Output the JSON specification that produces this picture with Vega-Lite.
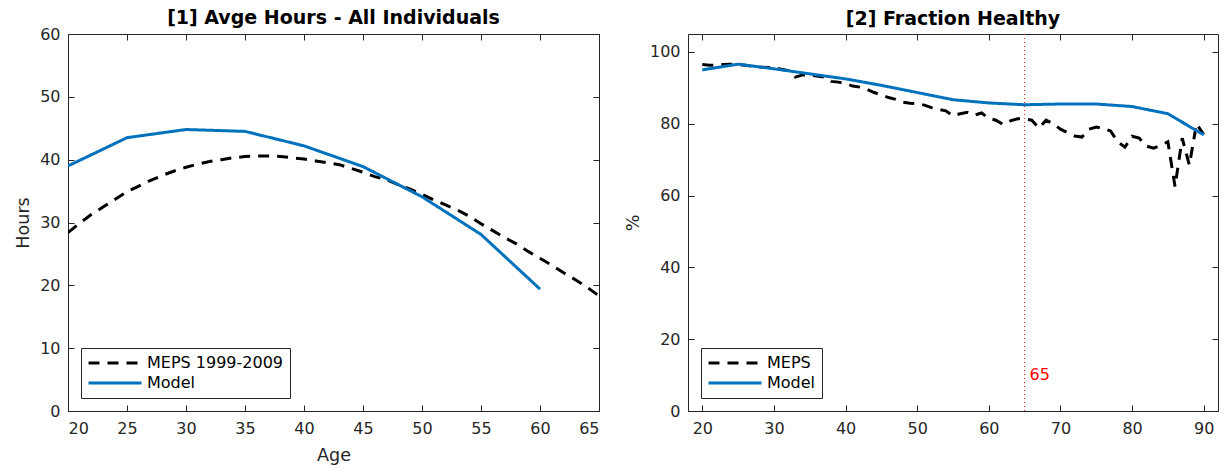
{
  "$schema": "https://vega.github.io/schema/vega-lite/v6.json",
  "background": "white",
  "padding": {"left": 14, "top": 8, "right": 5, "bottom": 5},
  "config": {
    "font": "DejaVu Sans",
    "view": {"stroke": "#262626", "strokeWidth": 1},
    "axis": {"labelFont": "DejaVu Sans", "labelFontSize": 16, "labelColor": "#262626", "titleFont": "DejaVu Sans", "titleFontSize": 17.6, "titleFontWeight": "normal", "titleColor": "#262626", "domain": false, "grid": false, "tickColor": "#262626", "tickSize": -6, "labelPadding": 14},
    "axisX": {"labelPadding": 15, "titlePadding": 10},
    "axisY": {"labelPadding": 14, "titlePadding": 7},
    "title": {"fontSize": 19, "font": "DejaVu Sans", "fontWeight": "bold", "color": "#000000", "offset": -2, "frame": "group"},
    "legend": {"orient": "bottom-left", "offset": 13, "strokeColor": "#262626", "fillColor": "white", "padding": 6, "symbolType": "stroke", "symbolSize": 2809, "symbolStrokeWidth": 3, "labelFont": "DejaVu Sans", "labelFontSize": 16, "labelColor": "#000000", "labelOffset": 4, "clipHeight": 18, "rowPadding": 2, "title": null},
    "concat": {"spacing": 20}
  },
  "datasets": {
    "hours": [
      {"series": "MEPS 1999-2009", "age": 20, "value": 28.4},
      {"series": "MEPS 1999-2009", "age": 21, "value": 29.9},
      {"series": "MEPS 1999-2009", "age": 22, "value": 31.3},
      {"series": "MEPS 1999-2009", "age": 23, "value": 32.5},
      {"series": "MEPS 1999-2009", "age": 24, "value": 33.7},
      {"series": "MEPS 1999-2009", "age": 25, "value": 34.9},
      {"series": "MEPS 1999-2009", "age": 26, "value": 35.8},
      {"series": "MEPS 1999-2009", "age": 27, "value": 36.7},
      {"series": "MEPS 1999-2009", "age": 28, "value": 37.5},
      {"series": "MEPS 1999-2009", "age": 29, "value": 38.2},
      {"series": "MEPS 1999-2009", "age": 30, "value": 38.8},
      {"series": "MEPS 1999-2009", "age": 31, "value": 39.3},
      {"series": "MEPS 1999-2009", "age": 32, "value": 39.7},
      {"series": "MEPS 1999-2009", "age": 33, "value": 40.0},
      {"series": "MEPS 1999-2009", "age": 34, "value": 40.3},
      {"series": "MEPS 1999-2009", "age": 35, "value": 40.5},
      {"series": "MEPS 1999-2009", "age": 36, "value": 40.6},
      {"series": "MEPS 1999-2009", "age": 37, "value": 40.6},
      {"series": "MEPS 1999-2009", "age": 38, "value": 40.5},
      {"series": "MEPS 1999-2009", "age": 39, "value": 40.3},
      {"series": "MEPS 1999-2009", "age": 40, "value": 40.1},
      {"series": "MEPS 1999-2009", "age": 41, "value": 39.8},
      {"series": "MEPS 1999-2009", "age": 42, "value": 39.5},
      {"series": "MEPS 1999-2009", "age": 43, "value": 39.2},
      {"series": "MEPS 1999-2009", "age": 44, "value": 38.6},
      {"series": "MEPS 1999-2009", "age": 45, "value": 38.0},
      {"series": "MEPS 1999-2009", "age": 46, "value": 37.3},
      {"series": "MEPS 1999-2009", "age": 47, "value": 36.8},
      {"series": "MEPS 1999-2009", "age": 48, "value": 36.0},
      {"series": "MEPS 1999-2009", "age": 49, "value": 35.3},
      {"series": "MEPS 1999-2009", "age": 50, "value": 34.5},
      {"series": "MEPS 1999-2009", "age": 51, "value": 33.6},
      {"series": "MEPS 1999-2009", "age": 52, "value": 32.8},
      {"series": "MEPS 1999-2009", "age": 53, "value": 32.0},
      {"series": "MEPS 1999-2009", "age": 54, "value": 31.0},
      {"series": "MEPS 1999-2009", "age": 55, "value": 29.8},
      {"series": "MEPS 1999-2009", "age": 56, "value": 28.7},
      {"series": "MEPS 1999-2009", "age": 57, "value": 27.6},
      {"series": "MEPS 1999-2009", "age": 58, "value": 26.6},
      {"series": "MEPS 1999-2009", "age": 59, "value": 25.4},
      {"series": "MEPS 1999-2009", "age": 60, "value": 24.3},
      {"series": "MEPS 1999-2009", "age": 61, "value": 23.2},
      {"series": "MEPS 1999-2009", "age": 62, "value": 22.0},
      {"series": "MEPS 1999-2009", "age": 63, "value": 20.9},
      {"series": "MEPS 1999-2009", "age": 64, "value": 19.7},
      {"series": "MEPS 1999-2009", "age": 65, "value": 18.3},
      {"series": "Model", "age": 20, "value": 39.0},
      {"series": "Model", "age": 25, "value": 43.5},
      {"series": "Model", "age": 30, "value": 44.8},
      {"series": "Model", "age": 35, "value": 44.5},
      {"series": "Model", "age": 40, "value": 42.2},
      {"series": "Model", "age": 45, "value": 38.9},
      {"series": "Model", "age": 50, "value": 34.1},
      {"series": "Model", "age": 55, "value": 28.1},
      {"series": "Model", "age": 60, "value": 19.4}
    ],
    "healthy": [
      {"series": "MEPS", "age": 20, "value": 96.5},
      {"series": "MEPS", "age": 21, "value": 96.3},
      {"series": "MEPS", "age": 22, "value": 96.3},
      {"series": "MEPS", "age": 23, "value": 96.5},
      {"series": "MEPS", "age": 24, "value": 96.6},
      {"series": "MEPS", "age": 25, "value": 96.5},
      {"series": "MEPS", "age": 26, "value": 96.3},
      {"series": "MEPS", "age": 27, "value": 96.0},
      {"series": "MEPS", "age": 28, "value": 95.8},
      {"series": "MEPS", "age": 29, "value": 95.7},
      {"series": "MEPS", "age": 30, "value": 95.6},
      {"series": "MEPS", "age": 31, "value": 95.2},
      {"series": "MEPS", "age": 32, "value": 94.8},
      {"series": "MEPS", "age": 33, "value": 93.0},
      {"series": "MEPS", "age": 34, "value": 93.6},
      {"series": "MEPS", "age": 35, "value": 93.5},
      {"series": "MEPS", "age": 36, "value": 93.3},
      {"series": "MEPS", "age": 37, "value": 93.0},
      {"series": "MEPS", "age": 38, "value": 91.8},
      {"series": "MEPS", "age": 39, "value": 91.6},
      {"series": "MEPS", "age": 40, "value": 91.2},
      {"series": "MEPS", "age": 41, "value": 90.5},
      {"series": "MEPS", "age": 42, "value": 90.2},
      {"series": "MEPS", "age": 43, "value": 89.6},
      {"series": "MEPS", "age": 44, "value": 88.7},
      {"series": "MEPS", "age": 45, "value": 88.0},
      {"series": "MEPS", "age": 46, "value": 87.3},
      {"series": "MEPS", "age": 47, "value": 86.8},
      {"series": "MEPS", "age": 48, "value": 86.0},
      {"series": "MEPS", "age": 49, "value": 85.7},
      {"series": "MEPS", "age": 50, "value": 85.6},
      {"series": "MEPS", "age": 51, "value": 85.2},
      {"series": "MEPS", "age": 52, "value": 84.5},
      {"series": "MEPS", "age": 53, "value": 84.0},
      {"series": "MEPS", "age": 54, "value": 83.6},
      {"series": "MEPS", "age": 55, "value": 82.2},
      {"series": "MEPS", "age": 56, "value": 82.8},
      {"series": "MEPS", "age": 57, "value": 83.2},
      {"series": "MEPS", "age": 58, "value": 82.4},
      {"series": "MEPS", "age": 59, "value": 83.0},
      {"series": "MEPS", "age": 60, "value": 81.5},
      {"series": "MEPS", "age": 61, "value": 81.0},
      {"series": "MEPS", "age": 62, "value": 79.8},
      {"series": "MEPS", "age": 63, "value": 80.8},
      {"series": "MEPS", "age": 64, "value": 81.4},
      {"series": "MEPS", "age": 65, "value": 81.3},
      {"series": "MEPS", "age": 66, "value": 81.0},
      {"series": "MEPS", "age": 67, "value": 78.8},
      {"series": "MEPS", "age": 68, "value": 81.0},
      {"series": "MEPS", "age": 69, "value": 80.0},
      {"series": "MEPS", "age": 70, "value": 78.5},
      {"series": "MEPS", "age": 71, "value": 77.5},
      {"series": "MEPS", "age": 72, "value": 76.6},
      {"series": "MEPS", "age": 73, "value": 76.3},
      {"series": "MEPS", "age": 74, "value": 78.5},
      {"series": "MEPS", "age": 75, "value": 79.1},
      {"series": "MEPS", "age": 76, "value": 78.7},
      {"series": "MEPS", "age": 77, "value": 78.0},
      {"series": "MEPS", "age": 78, "value": 75.0},
      {"series": "MEPS", "age": 79, "value": 73.5},
      {"series": "MEPS", "age": 80, "value": 76.5},
      {"series": "MEPS", "age": 81, "value": 76.0},
      {"series": "MEPS", "age": 82, "value": 73.8},
      {"series": "MEPS", "age": 83, "value": 73.2},
      {"series": "MEPS", "age": 84, "value": 74.0},
      {"series": "MEPS", "age": 85, "value": 75.0},
      {"series": "MEPS", "age": 86, "value": 62.5},
      {"series": "MEPS", "age": 87, "value": 76.0},
      {"series": "MEPS", "age": 88, "value": 68.5},
      {"series": "MEPS", "age": 89, "value": 80.0},
      {"series": "MEPS", "age": 90, "value": 77.0},
      {"series": "Model", "age": 20, "value": 95.0},
      {"series": "Model", "age": 25, "value": 96.6},
      {"series": "Model", "age": 30, "value": 95.3},
      {"series": "Model", "age": 35, "value": 93.9},
      {"series": "Model", "age": 40, "value": 92.5},
      {"series": "Model", "age": 45, "value": 90.7},
      {"series": "Model", "age": 50, "value": 88.7},
      {"series": "Model", "age": 55, "value": 86.7},
      {"series": "Model", "age": 60, "value": 85.8},
      {"series": "Model", "age": 65, "value": 85.3},
      {"series": "Model", "age": 70, "value": 85.5},
      {"series": "Model", "age": 75, "value": 85.5},
      {"series": "Model", "age": 80, "value": 84.8},
      {"series": "Model", "age": 85, "value": 82.8},
      {"series": "Model", "age": 90, "value": 76.9}
    ],
    "marker": [{"age": 65, "lo": 0, "hi": 105, "value": 10, "label": "65"}]
  },
  "hconcat": [
    {
      "width": 531,
      "height": 377,
      "title": "[1] Avge Hours - All Individuals",
      "data": {"name": "hours"},
      "layer": [
        {
          "mark": {"type": "line", "strokeWidth": 3, "clip": true},
          "encoding": {
            "x": {"field": "age", "type": "quantitative", "scale": {"domain": [20, 65], "nice": false, "zero": false}, "axis": {"title": "Age", "values": [20, 25, 30, 35, 40, 45, 50, 55, 60, 65]}},
            "y": {"field": "value", "type": "quantitative", "scale": {"domain": [0, 60], "nice": false}, "axis": {"title": "Hours", "values": [0, 10, 20, 30, 40, 50, 60]}},
            "color": {"field": "series", "type": "nominal", "scale": {"domain": ["MEPS 1999-2009", "Model"], "range": ["#000000", "#0072BD"]}, "legend": {"title": null}},
            "strokeDash": {"field": "series", "type": "nominal", "scale": {"domain": ["MEPS 1999-2009", "Model"], "range": [[11, 8], [1, 0]]}, "legend": {"title": null}}
          }
        },
        {
          "mark": {"type": "point", "opacity": 0},
          "encoding": {
            "x": {"field": "age", "type": "quantitative", "axis": {"orient": "top", "labels": false, "title": null, "values": [20, 25, 30, 35, 40, 45, 50, 55, 60, 65]}},
            "y": {"field": "value", "type": "quantitative", "axis": {"orient": "right", "labels": false, "title": null, "values": [0, 10, 20, 30, 40, 50, 60]}}
          }
        }
      ],
      "resolve": {"axis": {"x": "independent", "y": "independent"}}
    },
    {
      "width": 530,
      "height": 377,
      "title": {"text": "[2] Fraction Healthy", "offset": 5},
      "data": {"name": "healthy"},
      "layer": [
        {
          "data": {"name": "marker"},
          "mark": {"type": "rule", "stroke": "#FF0000", "color": "#FF0000", "strokeWidth": 1, "strokeDash": [1, 3], "clip": true},
          "encoding": {
            "x": {"field": "age", "type": "quantitative", "axis": null},
            "y": {"field": "lo", "type": "quantitative", "axis": null},
            "y2": {"field": "hi"}
          }
        },
        {
          "mark": {"type": "line", "strokeWidth": 3, "clip": true},
          "encoding": {
            "x": {"field": "age", "type": "quantitative", "scale": {"domain": [18, 92], "nice": false, "zero": false}, "axis": {"title": null, "values": [20, 30, 40, 50, 60, 70, 80, 90]}},
            "y": {"field": "value", "type": "quantitative", "scale": {"domain": [0, 105], "nice": false}, "axis": {"title": "%", "values": [0, 20, 40, 60, 80, 100]}},
            "color": {"field": "series", "type": "nominal", "scale": {"domain": ["MEPS", "Model"], "range": ["#000000", "#0072BD"]}, "legend": {"title": null}},
            "strokeDash": {"field": "series", "type": "nominal", "scale": {"domain": ["MEPS", "Model"], "range": [[11, 8], [1, 0]]}, "legend": {"title": null}}
          }
        },
        {
          "mark": {"type": "point", "opacity": 0},
          "encoding": {
            "x": {"field": "age", "type": "quantitative", "axis": {"orient": "top", "labels": false, "title": null, "values": [20, 30, 40, 50, 60, 70, 80, 90]}},
            "y": {"field": "value", "type": "quantitative", "axis": {"orient": "right", "labels": false, "title": null, "values": [0, 20, 40, 60, 80, 100]}}
          }
        },
        {
          "data": {"name": "marker"},
          "mark": {"type": "text", "color": "#FF0000", "fill": "#FF0000", "fontSize": 16, "align": "left", "baseline": "middle", "dx": 5},
          "encoding": {
            "x": {"field": "age", "type": "quantitative", "axis": null},
            "y": {"field": "value", "type": "quantitative", "axis": null},
            "text": {"field": "label"}
          }
        }
      ],
      "resolve": {"axis": {"x": "independent", "y": "independent"}}
    }
  ],
  "resolve": {"scale": {"color": "independent", "strokeDash": "independent"}}
}
